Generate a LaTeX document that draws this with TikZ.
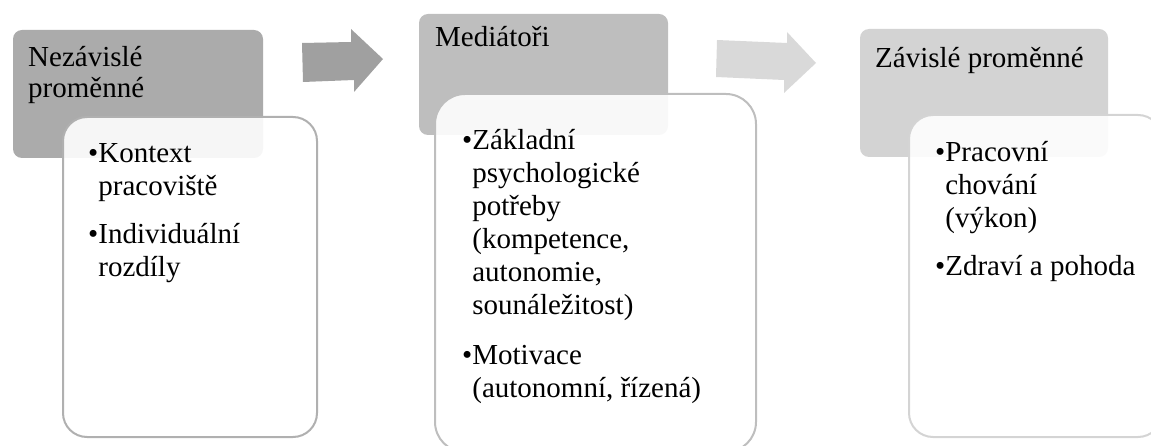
\documentclass[tikz,border=0pt]{standalone}
\usepackage{fontspec}
\setmainfont{Liberation Serif}
\begin{document}
\begin{tikzpicture}[x=1pt,y=-1pt,
  hdr/.style={rounded corners=9pt},
  card/.style={rounded corners=#1, line width=2pt, fill=white, fill opacity=0.9, draw opacity=1},
  txt/.style={anchor=base west, inner sep=0pt, font=\fontsize{29}{33}\selectfont},
  htxt/.style={anchor=base west, inner sep=0pt, font=\fontsize{29}{31}\selectfont},
]
\useasboundingbox (0,0) rectangle (1151,446);
\clip (0,0) rectangle (1151,446);
% column 1
\fill[hdr, fill={rgb,255:red,171;green,171;blue,171}] (13,30) rectangle (263,158);
\node[htxt] (h1) at (28,67) {\parbox[t]{230pt}{Nezávislé\\proměnné}};
\path[card=24pt, draw={rgb,255:red,176;green,176;blue,176}] (63,117) rectangle (317,437);
\node[txt] (a1) at (88,163) {\parbox[t]{230pt}{•Kontext\\\hphantom{•}pracoviště}};
\node[txt] (a2) at (88,244) {\parbox[t]{230pt}{•Individuální\\\hphantom{•}rozdíly}};
% arrow 1
\fill[fill={rgb,255:red,160;green,160;blue,160}] (302,43) -- (351,42) -- (351,29) -- (383,59) -- (354,92) -- (354,80) -- (303,82) -- cycle;
% column 2
\fill[hdr, fill={rgb,255:red,190;green,190;blue,190}] (419,14) rectangle (668,135);
\node[htxt] (h2) at (435,47) {Mediátoři};
\path[card=30pt, draw={rgb,255:red,190;green,190;blue,190}] (435,94) rectangle (756,452);
\node[txt] (b1) at (462,150) {\parbox[t]{280pt}{•Základní\\\hphantom{•}psychologické\\\hphantom{•}potřeby\\\hphantom{•}(kompetence,\\\hphantom{•}autonomie,\\\hphantom{•}sounáležitost)}};
\node[txt] (b2) at (462,364) {\parbox[t]{280pt}{•Motivace\\\hphantom{•}(autonomní, řízená)}};
% arrow 2
\fill[fill={rgb,255:red,217;green,217;blue,217}] (717,40) -- (787,43) -- (787,32) -- (816,63) -- (784,93) -- (784,80) -- (716,77) -- cycle;
% column 3
\fill[hdr, fill={rgb,255:red,211;green,211;blue,211}] (860,29) rectangle (1108,157);
\node[htxt] (h3) at (875,68) {Závislé proměnné};
\path[card=24pt, draw={rgb,255:red,212;green,212;blue,212}] (909,115) rectangle (1162,437);
\node[txt] (c1) at (935,162) {\parbox[t]{230pt}{•Pracovní\\\hphantom{•}chování\\\hphantom{•}(výkon)}};
\node[txt] (c2) at (935,276) {\parbox[t]{230pt}{•Zdraví a pohoda}};
\end{tikzpicture}
\end{document}
